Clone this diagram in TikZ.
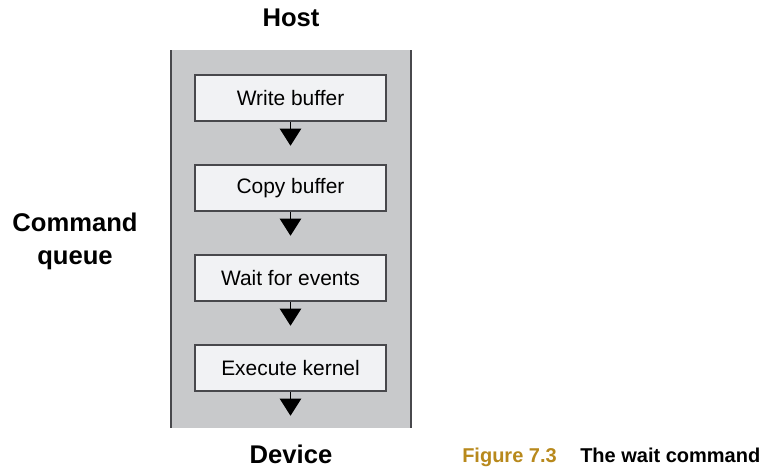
\documentclass[tikz,border=0pt]{standalone}
\usepackage{fontspec}
\setmainfont{Liberation Sans}
\usetikzlibrary{positioning, arrows.meta}
\definecolor{queuegray}{HTML}{C8C9CB}
\definecolor{boxgray}{HTML}{F1F2F4}
\definecolor{edgegray}{HTML}{48484C}
\definecolor{figgold}{HTML}{B8891C}

\begin{document}
\begin{tikzpicture}[x=0.75pt, y=-0.75pt,
  cmd/.style={draw=edgegray, fill=boxgray, line width=1.4pt, minimum width=143.25pt,
    minimum height=35pt, inner sep=0pt, font=\fontsize{15.7}{18}\selectfont},
  flow/.style={line width=0.75pt, shorten >=13.5pt, -{Triangle[length=12.75pt,width=16pt]}},
  sidelabel/.style={font=\fontsize{19.2}{24.75}\selectfont\bfseries, align=center}]
  \useasboundingbox (0,0) rectangle (762,469);

  % Queue column
  \fill[queuegray] (171,50) rectangle (411,428);
  \draw[line width=0.9pt, edgegray] (171,50) -- (171,428) (411,50) -- (411,428);

  % Commands
  \node[cmd] (write) at (290.5,98) {Write buffer};
  \node[cmd, below=31.1pt of write] (copy) {Copy buffer};
  \node[cmd, below=31.1pt of copy] (wait) {Wait for events};
  \node[cmd, below=31.1pt of wait] (exec) {Execute kernel};
  \coordinate[below=31.1pt of exec] (qend);

  % Arrows
  \draw[flow] (write) -- (copy);
  \draw[flow] (copy) -- (wait);
  \draw[flow] (wait) -- (exec);
  \draw[flow] (exec) -- (qend);

  % Labels
  \node[sidelabel] (host) at (291,18) {Host};
  \node[sidelabel] (device) at (291,454) {Device};
  \node[sidelabel] (queue) at (75,241) {Command\\queue};

  % Caption
  \node[anchor=base west, inner sep=0pt, text=figgold, font=\fontsize{15}{18}\selectfont\bfseries] (fig) at (462,462) {Figure 7.3};
  \node[anchor=base west, inner sep=0pt, font=\fontsize{15}{18}\selectfont\bfseries] (cap) at (580,462) {The wait command};
\end{tikzpicture}
\end{document}
